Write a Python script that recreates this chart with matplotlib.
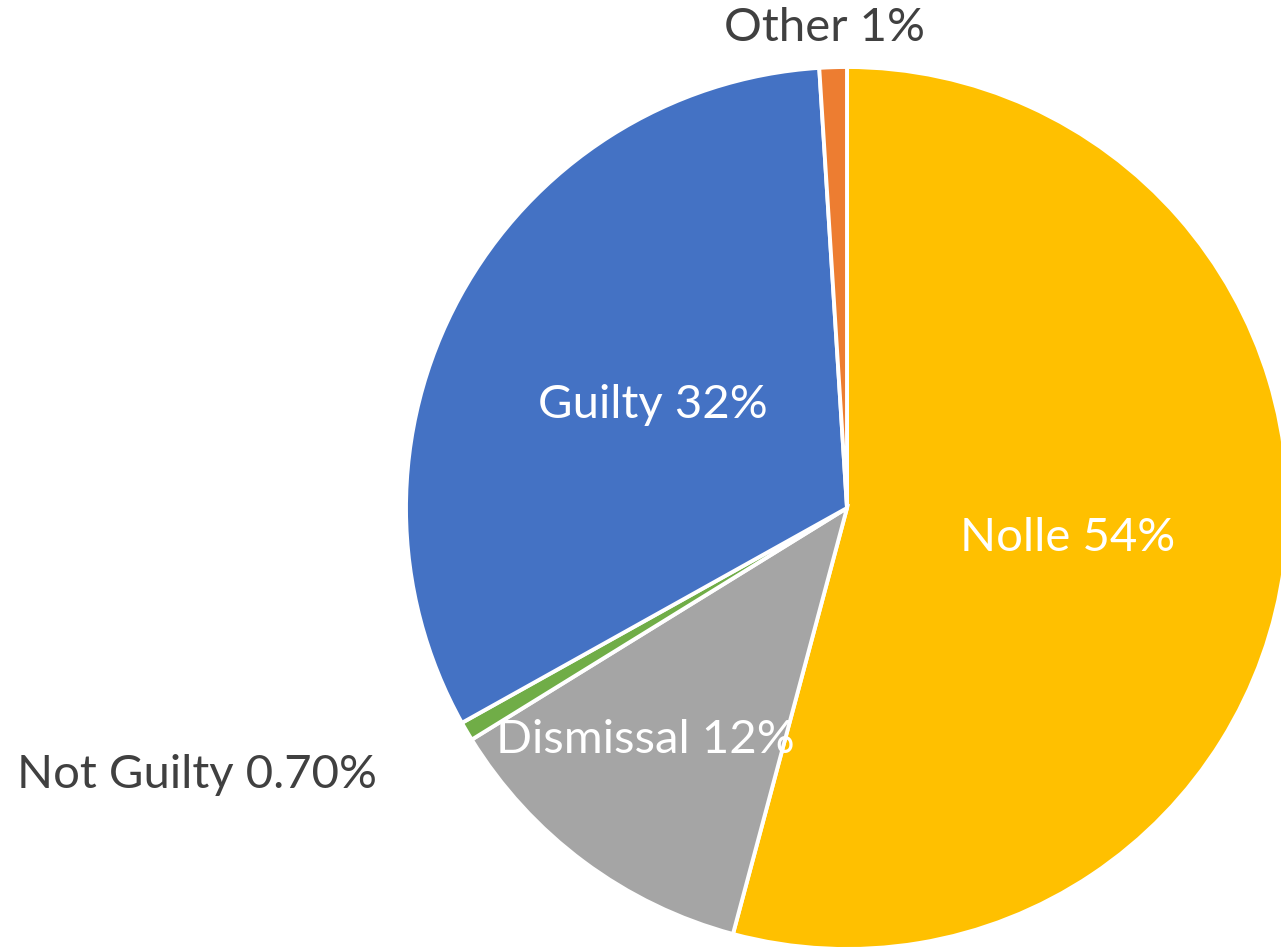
import matplotlib.pyplot as plt

# slices, clockwise from 12 o'clock
categories = ['Nolle', 'Dismissal', 'Not Guilty', 'Guilty', 'Other']
values = [54, 12, 0.7, 32, 1]
label_pcts = ['54%', '12%', '0.70%', '32%', '1%']
colors = ['#FFC000', '#A5A5A5', '#70AD47', '#4472C4', '#ED7D31']

W, H = 1281, 949
fig = plt.figure(figsize=(W / 100, H / 100), dpi=100, facecolor='white')
ax = fig.add_axes([0, 0, 1, 1])

cx, cy, r = 847, H - 508, 441
ax.pie(values, colors=colors, startangle=90, counterclock=False,
       center=(cx, cy), radius=r, frame=True,
       wedgeprops=dict(edgecolor='white', linewidth=2.8))
ax.set_xlim(0, W)
ax.set_ylim(0, H)
ax.set_aspect('equal')
ax.axis('off')

# label anchors in pixel coords (x, y from top) and colours
label_xy = [(1068, 538), (645, 740), (197, 775), (653, 405), (825, 28)]
label_col = ['white', 'white', '#404040', 'white', '#404040']

for name, pct, (lx, ly), c in zip(categories, label_pcts, label_xy, label_col):
    ax.text(lx, H - ly, f'{name} {pct}', color=c, fontsize=34, family='Lato',
            ha='center', va='center')

fig.savefig('out.png', dpi=100, facecolor='white')
